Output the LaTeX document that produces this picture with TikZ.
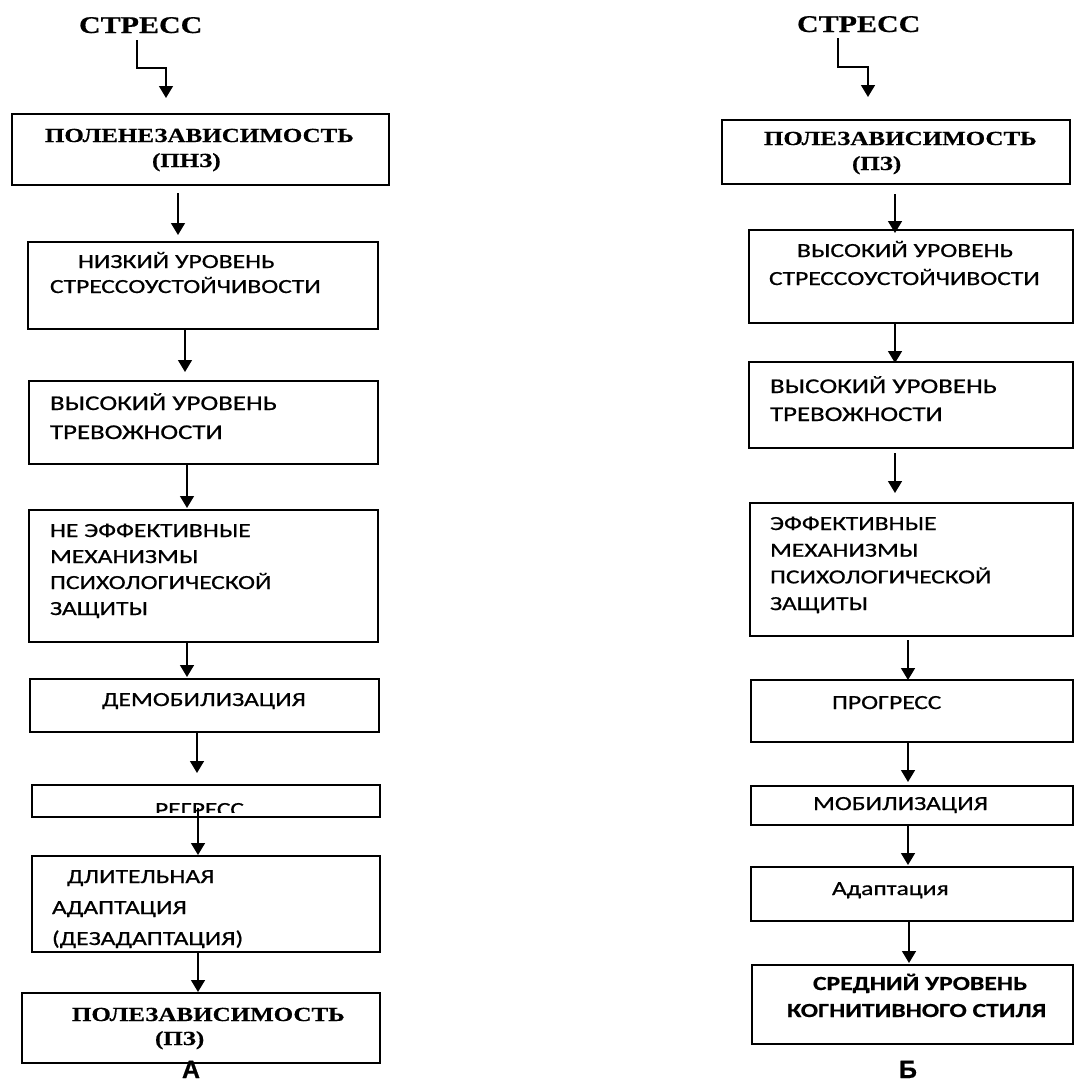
\documentclass[tikz,border=0pt]{standalone}
\usepackage{fontspec}
\setmainfont{Carlito}
\newfontfamily\calf[FakeStretch=1.28, FakeBold=0.6]{Carlito}
\newfontfamily\timesf[FakeStretch=1.25, FakeBold=0.5]{Liberation Serif}
\newfontfamily\arialf[FakeBold=0.5]{Liberation Sans}
\usetikzlibrary{arrows.meta}

% strut that fixes the top of every label relative to its first baseline
\newcommand\st{\rule{0pt}{17pt}}
% rectangle given by its corners (x1,y1) (x2,y2)
\newcommand\bx[5]{\node[box, minimum width={(#4-#2)*1pt}, minimum height={(#5-#3)*1pt}] (#1) at ({(#2+#4)/2},{(#3+#5)/2}) {};}
% vertical arrow between two boxes at a given x
\newcommand\link[5]{\coordinate (x-#1) at (#3,0);
  \draw[arr, shorten <=#4pt, shorten >=#5pt] (#1.south -| x-#1) -- (#2.north -| x-#1);}

\begin{document}
\begin{tikzpicture}[x=1pt,y=-1pt,
  box/.style={draw, line width=1.8pt, inner sep=0pt, outer sep=0pt},
  arr/.style={line width=1.5pt, -{Triangle[length=12pt,width=14pt]}},
  lbl/.style={anchor=north west, inner sep=0pt, outer sep=0pt, align=left},
  ser/.style={font=\timesf\bfseries\fontsize{20}{25}\selectfont},
  letter/.style={anchor=base, inner sep=0pt, font=\arialf\bfseries\fontsize{25}{25}\selectfont}]
\useasboundingbox[fill=white] (0,0) rectangle (1075,1082);

% ---------- column A ----------
\node[lbl, font=\timesf\bfseries\fontsize{24}{24}\selectfont] (tA) at (79,16) {\st СТРЕСС};
\bx{L1}{12}{114}{389}{185}
\bx{L2}{28}{242}{378}{329}
\bx{L3}{29}{381}{378}{464}
\bx{L4}{29}{510}{378}{642}
\bx{L5}{30}{679}{379}{732}
\bx{L6}{32}{785}{380}{817}
\bx{L7}{32}{856}{380}{952}
\bx{L8}{22}{993}{380}{1063}

\node[lbl, ser] (tL1) at (45,125) {\st ПОЛЕНЕЗАВИСИМОСТЬ\\\hspace*{107pt}(ПНЗ)};
\node[lbl, font=\calf\fontsize{20}{25}\selectfont] (tL2) at (50,251) {\st\hspace*{28pt}НИЗКИЙ УРОВЕНЬ\\СТРЕССОУСТОЙЧИВОСТИ};
\node[lbl, font=\calf\fontsize{21}{29}\selectfont] (tL3) at (50,393) {\st ВЫСОКИЙ УРОВЕНЬ\\ТРЕВОЖНОСТИ};
\node[lbl, font=\calf\fontsize{20}{26}\selectfont] (tL4) at (50,520) {\st НЕ ЭФФЕКТИВНЫЕ\\МЕХАНИЗМЫ\\ПСИХОЛОГИЧЕСКОЙ\\ЗАЩИТЫ};
\node[lbl, font=\calf\fontsize{20}{26}\selectfont] (tL5) at (102,689) {\st ДЕМОБИЛИЗАЦИЯ};
\begin{scope}
  \clip (L6.north west) rectangle ([yshift=5pt]L6.south east);
  \node[lbl, font=\calf\fontsize{20}{26}\selectfont] (tL6) at (155,799) {\st РЕГРЕСС};
\end{scope}
\node[lbl, font=\calf\fontsize{20}{31}\selectfont] (tL7) at (52,866) {\st\hspace*{15pt}ДЛИТЕЛЬНАЯ\\АДАПТАЦИЯ\\(ДЕЗАДАПТАЦИЯ)};
\node[lbl, font=\timesf\bfseries\fontsize{20}{24}\selectfont] (tL8) at (72,1004) {\st ПОЛЕЗАВИСИМОСТЬ\\\hspace*{83pt}(ПЗ)};
\node[letter] (capA) at (191,1078) {А};

\coordinate (sA1) at (137,40);
\coordinate (sA2) at (166,68);
\draw[arr, shorten >=16pt] (sA1) |- (sA2) -- (L1.north -| sA2);
\link{L1}{L2}{178}{8}{7}
\link{L2}{L3}{185}{0}{9}
\link{L3}{L4}{187}{0}{2}
\link{L4}{L5}{187}{0}{2}
\link{L5}{L6}{197}{0}{12}
\link{L6}{L7}{198}{-9}{1}
\link{L7}{L8}{198}{0}{1}

% ---------- column B ----------
\node[lbl, font=\timesf\bfseries\fontsize{24}{24}\selectfont] (tB) at (797,15) {\st СТРЕСС};
\bx{R1}{722}{120}{1070}{184}
\bx{R2}{749}{230}{1073}{323}
\bx{R3}{749}{362}{1073}{448}
\bx{R4}{750}{503}{1073}{636}
\bx{R5}{751}{680}{1073}{742}
\bx{R6}{751}{786}{1073}{825}
\bx{R7}{751}{867}{1073}{921}
\bx{R8}{752}{965}{1073}{1044}

\node[lbl, ser] (tR1) at (764,128) {\st ПОЛЕЗАВИСИМОСТЬ\\\hspace*{88pt}(ПЗ)};
\node[lbl, font=\calf\fontsize{20}{28}\selectfont] (tR2) at (769,240) {\st\hspace*{28pt}ВЫСОКИЙ УРОВЕНЬ\\СТРЕССОУСТОЙЧИВОСТИ};
\node[lbl, font=\calf\fontsize{21}{28}\selectfont] (tR3) at (770,376) {\st ВЫСОКИЙ УРОВЕНЬ\\ТРЕВОЖНОСТИ};
\node[lbl, font=\calf\fontsize{20}{26.7}\selectfont] (tR4) at (770,513) {\st ЭФФЕКТИВНЫЕ\\МЕХАНИЗМЫ\\ПСИХОЛОГИЧЕСКОЙ\\ЗАЩИТЫ};
\node[lbl, font=\calf\fontsize{20}{26}\selectfont] (tR5) at (832,692) {\st ПРОГРЕСС};
\node[lbl, font=\calf\fontsize{20}{26}\selectfont] (tR6) at (813,793) {\st МОБИЛИЗАЦИЯ};
\node[lbl, font=\calf\fontsize{20}{26}\selectfont] (tR7) at (832,878) {\st Адаптация};
\node[lbl, font=\calf\bfseries\fontsize{20}{27}\selectfont] (tR8) at (787,973) {\st\hspace*{26pt}СРЕДНИЙ УРОВЕНЬ\\КОГНИТИВНОГО СТИЛЯ};
\node[letter] (capB) at (908,1078) {Б};

\coordinate (sB1) at (838,38);
\coordinate (sB2) at (868,67);
\draw[arr, shorten >=23pt] (sB1) |- (sB2) -- (R1.north -| sB2);
\link{R1}{R2}{895}{10}{-3}
\link{R2}{R3}{895}{0}{-1}
\link{R3}{R4}{895}{5}{10}
\link{R4}{R5}{908}{4}{0}
\link{R5}{R6}{908}{0}{4}
\link{R6}{R7}{908}{0}{2}
\link{R7}{R8}{909}{0}{2}
\end{tikzpicture}
\end{document}
